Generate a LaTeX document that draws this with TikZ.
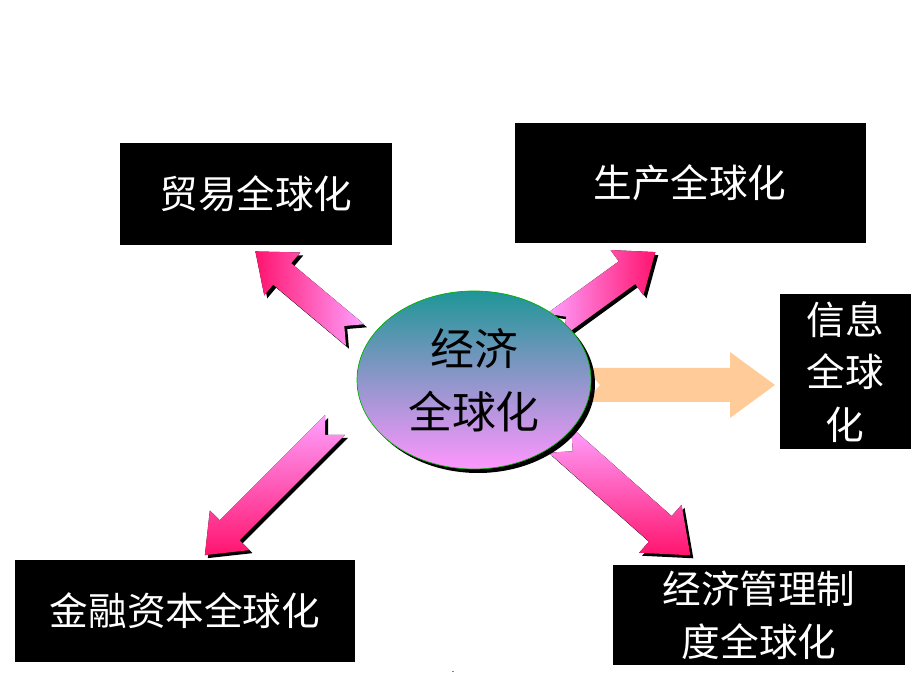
\documentclass[tikz,border=0pt]{standalone}
\usepackage{fontspec}
\setmainfont{Noto Sans CJK SC}
\usetikzlibrary{shapes.geometric,shadows}
\definecolor{hotpink}{RGB}{255,20,110}
\definecolor{lightpink}{RGB}{255,160,255}
\definecolor{peach}{RGB}{255,204,153}
\definecolor{teal2}{RGB}{30,150,150}
\definecolor{mauve}{RGB}{255,150,255}
\newcommand\fatarrow[7]{%
  \pgfmathsetmacro\hl{1.25*#6}
  \begin{scope}[shift={(#1+3,#2-3)},rotate=#3]
    \fill[black] (0,-#5) -- ({#4-\hl},-#5) -- ({#4-\hl},-#6) -- (#4,0) -- ({#4-\hl},#6) -- ({#4-\hl},#5) -- (0,#5) -- (#5,0) -- cycle;
  \end{scope}
  \begin{scope}[shift={(#1,#2)},rotate=#3]
    \fill[#7] (0,-#5) -- ({#4-\hl},-#5) -- ({#4-\hl},-#6) -- (#4,0) -- ({#4-\hl},#6) -- ({#4-\hl},#5) -- (0,#5) -- (#5,0) -- cycle;
  \end{scope}}
\tikzset{
  box/.style={fill=black,text=white,align=center,inner sep=0pt,font=\fontsize{22}{30}\selectfont},
  pinkleft/.style={left color=hotpink,right color=lightpink},
  pinkright/.style={left color=lightpink,right color=hotpink},
  pinkdown/.style={top color=lightpink,bottom color=hotpink},
  peacharrow/.style={fill=peach}
}
\begin{document}
\begin{tikzpicture}[x=0.02cm,y=0.02cm]
\useasboundingbox (0,0) rectangle (920,690);
% boxes
\node[box,minimum width=272*0.02cm,minimum height=102*0.02cm] (trade) at (256,496) {贸易全球化};
\node[box,minimum width=351*0.02cm,minimum height=120*0.02cm] (prod) at (690,507) {生产全球化};
\node[box,minimum width=131*0.02cm,minimum height=155*0.02cm] (info) at (845,318) {信息\\全球\\化};
\node[box,minimum width=340*0.02cm,minimum height=102*0.02cm] (fin) at (185,79) {金融资本全球化};
\node[box,minimum width=292*0.02cm,minimum height=100*0.02cm] (mgmt) at (759,75) {经济管理制\\度全球化};
% arrows
\fatarrow{355}{355}{140}{130}{14}{28}{pinkleft}
\fatarrow{555}{365}{36}{124}{14}{28}{pinkright}
\fatarrow{335}{265}{225}{184}{14}{28}{pinkdown}
\fatarrow{560}{250}{-41.5}{174}{17}{32}{pinkdown}
\begin{scope}[shift={(585,305)}]
  \fill[peacharrow] (0,-17) -- (145,-17) -- (145,-33) -- (190,0) -- (145,33) -- (145,17) -- (0,17) -- (15,0) -- cycle;
\end{scope}
% centre
\fill[black] (478,306) ellipse [x radius=117, y radius=89];
\node[ellipse,draw=green!70!black,top color=teal2,bottom color=mauve,minimum width=234*0.02cm,minimum height=178*0.02cm,align=center,inner sep=0pt,font=\fontsize{25}{36}\selectfont] (econ) at (474,310) {经济\\全球化};
\node[font=\tiny] (dot) at (453,18) {.};
\end{tikzpicture}
\end{document}
